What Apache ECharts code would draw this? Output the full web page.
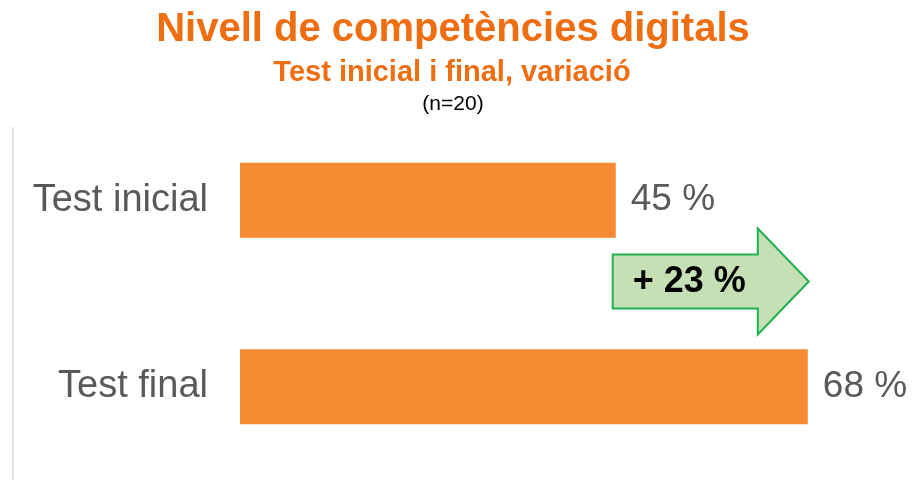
<!DOCTYPE html>
<html><head><meta charset="utf-8">
<script src="https://cdn.jsdelivr.net/npm/echarts@6/dist/echarts.min.js"></script>
<style>html,body{margin:0;padding:0;background:#fff}#c{width:914px;height:480px}</style>
</head><body><div id="c"></div>
<script>
const categories = ['Test inicial', 'Test final'];
const values = [45, 68];
const titleText = 'Nivell de competències digitals';
const subtitleText = 'Test inicial i final, variació';
const sampleText = '(n=20)';

const FONT = '"Liberation Sans", Arial, sans-serif';
const chart = echarts.init(document.getElementById('c'), null, {renderer: 'canvas'});
const option = {
  animation: false,
  backgroundColor: '#ffffff',
  grid: {left: 240, top: 107, width: 668, height: 378},
  xAxis: {type: 'value', min: 0, max: 80, show: false},
  yAxis: {
    type: 'category', data: categories, inverse: true,
    axisLine: {show: false}, axisTick: {show: false},
    axisLabel: {fontFamily: FONT, fontSize: 38, color: '#595959', margin: 32}
  },
  title: [
    {text: titleText, left: 448, textAlign: 'center', top: 5, textStyle: {fontFamily: FONT, fontSize: 40, fontWeight: 'bold', color: '#EF6E12'}},
    {text: subtitleText, left: 447, textAlign: 'center', top: 53, textStyle: {fontFamily: FONT, fontSize: 29, fontWeight: 'bold', color: '#EF6E12'}},
    {text: sampleText, left: 448, textAlign: 'center', top: 89, textStyle: {fontFamily: FONT, fontSize: 21, fontWeight: 'normal', color: '#000000'}}
  ],
  series: [{
    type: 'bar', data: values, barWidth: 75,
    itemStyle: {color: '#F68A33'},
    label: {show: true, position: 'right', distance: 15, formatter: p => p.value + ' %',
      fontFamily: FONT, fontSize: 37, color: '#595959'}
  }]
};
chart.setOption(option);

// annotations derived from the axis scales
const p0 = chart.convertToPixel({gridIndex: 0}, [values[0], 0]);
const p1 = chart.convertToPixel({gridIndex: 0}, [values[1], 1]);
const x0 = p0[0] - 3, tip = p1[0] + 1;
const cy = (p0[1] + p1[1]) / 2 - 12;
const headLen = 51, bodyH = 27, headH = 53;
const hb = tip - headLen;
chart.setOption({
  graphic: [
    {type: 'line', shape: {x1: 13, y1: 127, x2: 13, y2: 480}, style: {stroke: '#c8c8c8', lineWidth: 1}},
    {type: 'polygon', shape: {points: [[x0, cy - bodyH], [hb, cy - bodyH], [hb, cy - headH], [tip, cy], [hb, cy + headH], [hb, cy + bodyH], [x0, cy + bodyH]]},
     style: {fill: '#C5E0B4', stroke: '#1FB050', lineWidth: 2}},
    {type: 'text', x: (x0 + hb) / 2 + 4, y: cy + 1, style: {text: '+ ' + (values[1] - values[0]) + ' %', fontFamily: FONT, fontSize: 36, fontWeight: 'bold', fill: '#000', align: 'center', verticalAlign: 'middle'}}
  ]
});
</script></body></html>
